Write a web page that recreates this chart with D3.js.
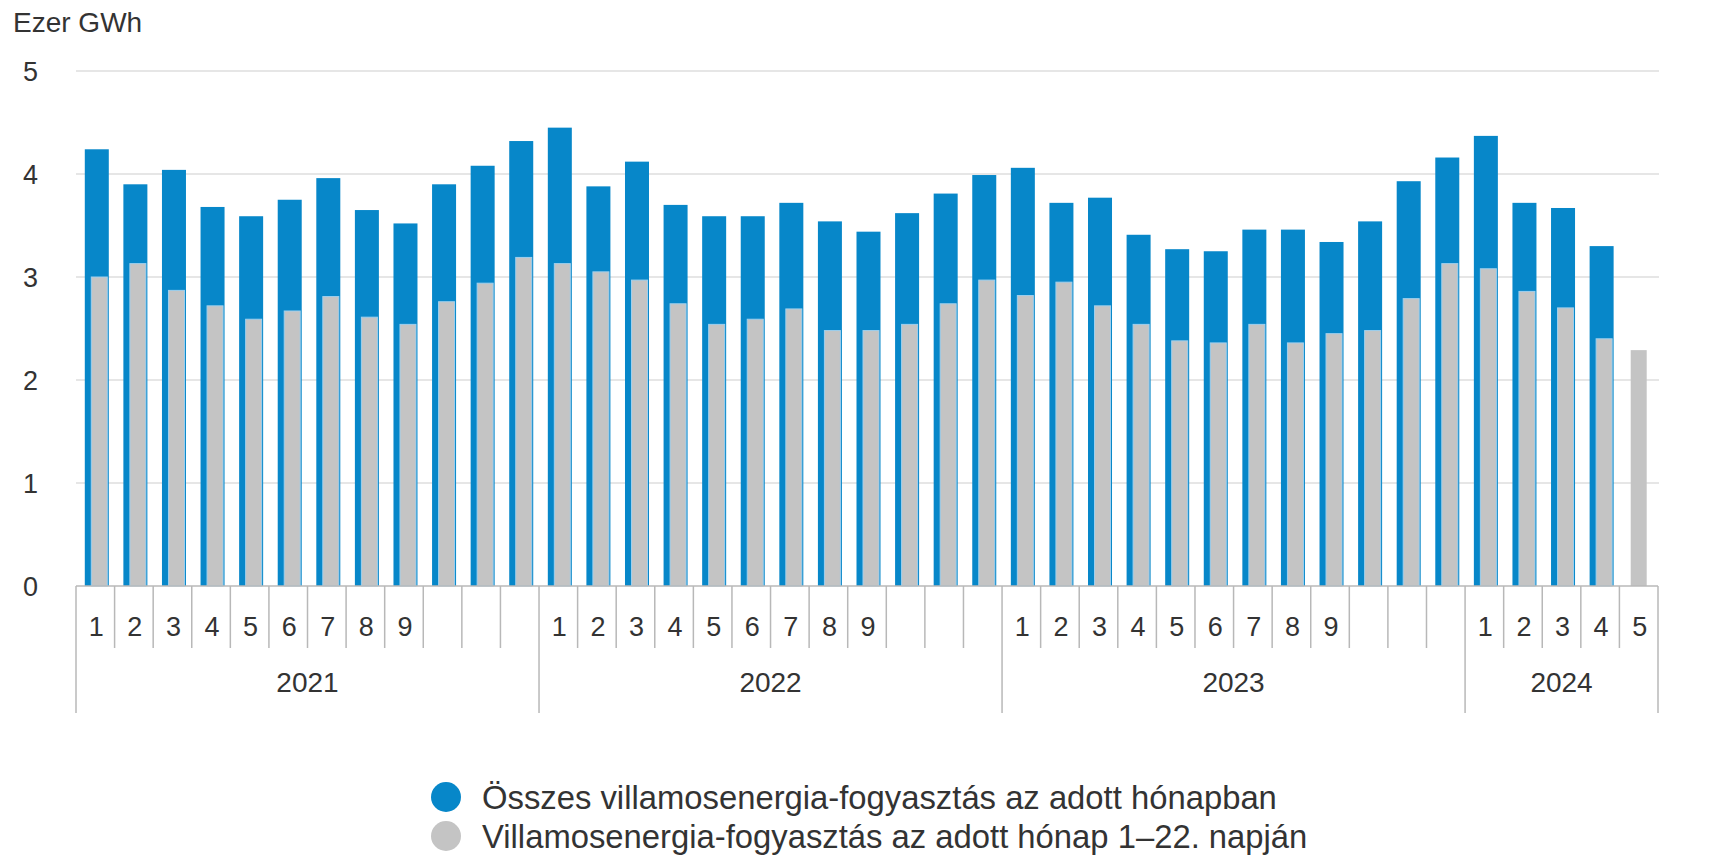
<!DOCTYPE html>
<html>
<head>
<meta charset="utf-8">
<script src="https://cdn.jsdelivr.net/npm/d3@7"></script>
<style>
  body { margin: 0; background: #fff; }
  text { font-family: "Liberation Sans", Arial, sans-serif; fill: #333; }
</style>
</head>
<body>
<script>
var years = ['2021', '2022', '2023', '2024']
var monthsPerYear = [12, 12, 12, 5]
var monthLabels = ['1', '2', '3', '4', '5', '6', '7', '8', '9', '', '', '']
var yTicks = [0, 1, 2, 3, 4, 5]

// Összes villamosenergia-fogyasztás az adott hónapban (ezer GWh)
var totalMonth = [
  4.24, 3.90, 4.04, 3.68, 3.59, 3.75, 3.96, 3.65, 3.52, 3.90, 4.08, 4.32,
  4.45, 3.88, 4.12, 3.70, 3.59, 3.59, 3.72, 3.54, 3.44, 3.62, 3.81, 3.99,
  4.06, 3.72, 3.77, 3.41, 3.27, 3.25, 3.46, 3.46, 3.34, 3.54, 3.93, 4.16,
  4.37, 3.72, 3.67, 3.30, null
]
// Villamosenergia-fogyasztás az adott hónap 1–22. napján
var first22 = [
  3.00, 3.13, 2.87, 2.72, 2.59, 2.67, 2.81, 2.61, 2.54, 2.76, 2.94, 3.19,
  3.13, 3.05, 2.97, 2.74, 2.54, 2.59, 2.69, 2.48, 2.48, 2.54, 2.74, 2.97,
  2.82, 2.95, 2.72, 2.54, 2.38, 2.36, 2.54, 2.36, 2.45, 2.48, 2.79, 3.13,
  3.08, 2.86, 2.70, 2.40, 2.29
]

var legendItems = [
  { label: 'Összes villamosenergia-fogyasztás az adott hónapban', color: '#0787c9' },
  { label: 'Villamosenergia-fogyasztás az adott hónap 1–22. napján', color: '#c4c4c4' }
]

var categories = []
years.forEach(function(yr, i) {
  for (var m = 0; m < monthsPerYear[i]; m++) {
    categories.push({ year: yr, month: monthLabels[m], idx: categories.length })
  }
})

var width = 1714, height = 860
var svg = d3.select('body').append('svg')
  .attr('width', width)
  .attr('height', height)

var x = d3.scaleBand()
  .domain(categories.map(function(d) { return d.idx }))
  .range([76, 1658])

var y = d3.scaleLinear()
  .domain([0, 5])
  .range([586, 71])

// gridlines
svg.append('g').selectAll('line')
  .data(yTicks.slice(1))
  .enter().append('line')
  .attr('x1', 76).attr('x2', 1659)
  .attr('y1', function(d) { return y(d) })
  .attr('y2', function(d) { return y(d) })
  .style('stroke', '#dedede')
  .style('stroke-width', '1.5px')

// y labels
svg.append('g').selectAll('text')
  .data(yTicks)
  .enter().append('text')
  .attr('x', 38)
  .attr('y', function(d) { return y(d) })
  .attr('dy', '0.36em')
  .attr('text-anchor', 'end')
  .style('font-size', '27px')
  .text(function(d) { return d })

svg.append('text')
  .attr('x', 13).attr('y', 32)
  .style('font-size', '28px')
  .text('Ezer GWh')

// bars
var bw = 24, gw = 16
svg.append('g').selectAll('rect')
  .data(categories.filter(function(d) { return totalMonth[d.idx] != null }))
  .enter().append('rect')
  .attr('x', function(d) { return x(d.idx) + x.bandwidth() / 2 + 1.5 - bw / 2 })
  .attr('width', bw)
  .attr('y', function(d) { return y(totalMonth[d.idx]) })
  .attr('height', function(d) { return y(0) - y(totalMonth[d.idx]) })
  .style('fill', legendItems[0].color)

svg.append('g').selectAll('rect')
  .data(categories)
  .enter().append('rect')
  .attr('x', function(d) {
    var off = totalMonth[d.idx] == null ? 0 : 4
    return x(d.idx) + x.bandwidth() / 2 + off - gw / 2
  })
  .attr('width', gw)
  .attr('y', function(d) { return y(first22[d.idx]) })
  .attr('height', function(d) { return y(0) - y(first22[d.idx]) })
  .style('fill', legendItems[1].color)
  .style('stroke', '#9fd0ee')
  .style('stroke-width', function(d) { return totalMonth[d.idx] == null ? 0 : 1 })

// category axis
var axis = svg.append('g')
axis.append('line')
  .attr('x1', x.range()[0]).attr('x2', x.range()[1])
  .attr('y1', y(0)).attr('y2', y(0))
  .style('stroke', '#b8b8b8').style('stroke-width', '1.5px')

var yearStarts = [0]
monthsPerYear.forEach(function(n, i) { yearStarts.push(yearStarts[i] + n) })

var bounds = d3.range(categories.length + 1)
axis.selectAll('.tick')
  .data(bounds)
  .enter().append('line')
  .attr('x1', function(d) { return x.range()[0] + d * x.step() })
  .attr('x2', function(d) { return x.range()[0] + d * x.step() })
  .attr('y1', y(0))
  .attr('y2', function(d) { return yearStarts.indexOf(d) >= 0 ? 713 : 648 })
  .style('stroke', '#b8b8b8').style('stroke-width', '1.5px')

axis.selectAll('.month')
  .data(categories)
  .enter().append('text')
  .attr('x', function(d) { return x(d.idx) + x.bandwidth() / 2 + 1 })
  .attr('y', 626)
  .attr('dy', '0.36em')
  .attr('text-anchor', 'middle')
  .style('font-size', '27px')
  .text(function(d) { return d.month })

axis.selectAll('.year')
  .data(years)
  .enter().append('text')
  .attr('x', function(d, i) {
    return x.range()[0] + (yearStarts[i] + yearStarts[i + 1]) / 2 * x.step()
  })
  .attr('y', 682)
  .attr('dy', '0.36em')
  .attr('text-anchor', 'middle')
  .style('font-size', '28px')
  .text(function(d) { return d })

// legend
var legend = svg.append('g')
  .selectAll('g')
  .data(legendItems)
  .enter().append('g')
  .attr('transform', function(d, i) { return 'translate(446,' + (797 + i * 39) + ')' })

legend.append('circle')
  .attr('r', 15)
  .style('fill', function(d) { return d.color })

legend.append('text')
  .attr('x', 36)
  .attr('dy', '0.36em')
  .style('font-size', '32.8px')
  .text(function(d) { return d.label })
</script>
</body>
</html>
